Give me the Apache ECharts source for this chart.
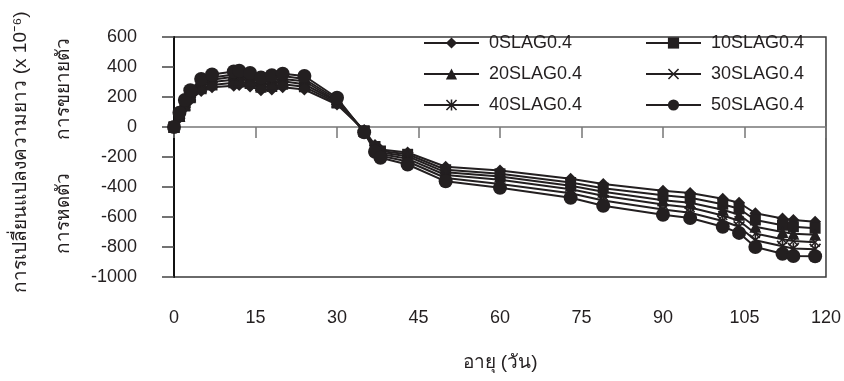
<!DOCTYPE html>
<html>
<head>
<meta charset="utf-8">
<script src="https://cdn.jsdelivr.net/npm/echarts@6/dist/echarts.min.js"></script>
<style>
  html, body { margin: 0; padding: 0; background: #fff; }
  #chart { width: 844px; height: 381px; }
</style>
</head>
<body>
<div id="chart"></div>
<script>
// อายุ (วัน)
const days = [0, 1, 2, 3, 5, 7, 11, 12, 14, 16, 18, 20, 24, 30, 35, 37, 38, 43, 50, 60, 73, 79, 90, 95, 101, 104, 107, 112, 114, 118];

// strain (x 10^-6)
const slag0  = [0, 60, 130, 180, 240, 265, 275, 280, 270, 245, 250, 265, 250, 150, -20, -120, -150, -170, -265, -290, -345, -380, -425, -440, -478, -505, -575, -610, -620, -632];
const slag10 = [0, 70, 140, 195, 255, 280, 295, 300, 290, 265, 270, 285, 268, 160, -25, -130, -160, -182, -285, -312, -370, -408, -455, -472, -515, -545, -620, -655, -665, -675];
const slag20 = [0, 75, 150, 205, 270, 300, 315, 320, 310, 280, 290, 305, 285, 170, -25, -140, -170, -195, -302, -330, -392, -432, -488, -505, -552, -585, -665, -700, -712, -718];
const slag30 = [0, 80, 160, 220, 285, 315, 335, 340, 325, 300, 310, 320, 305, 175, -30, -146, -180, -212, -320, -352, -415, -458, -517, -537, -590, -625, -710, -748, -760, -768];
const slag40 = [0, 90, 170, 230, 300, 330, 350, 355, 345, 315, 325, 340, 320, 185, -30, -155, -192, -230, -340, -380, -442, -490, -550, -572, -627, -665, -755, -795, -810, -815];
const slag50 = [0, 95, 180, 245, 320, 350, 370, 375, 360, 330, 345, 355, 340, 195, -35, -165, -205, -250, -362, -405, -472, -525, -585, -607, -665, -706, -800, -845, -860, -862];

const names = ["0SLAG0.4", "10SLAG0.4", "20SLAG0.4", "30SLAG0.4", "40SLAG0.4", "50SLAG0.4"];
const values = [slag0, slag10, slag20, slag30, slag40, slag50];

const ink = "#231f20";
const font = "'Liberation Sans', Arial, 'Noto Sans', sans-serif";

// ตัวชี้แบบ x และ *
const crossPath = "path://M0,1 L1,0 L5,4 L9,0 L10,1 L6,5 L10,9 L9,10 L5,6 L1,10 L0,9 L4,5 Z";
const starPath = "path://M0,1 L1,0 L5,4 L9,0 L10,1 L6,5 L10,9 L9,10 L5,6 L1,10 L0,9 L4,5 Z M4.3,0 L5.7,0 L5.7,10 L4.3,10 Z";
const symbols = ["diamond", "rect", "triangle", crossPath, starPath, "circle"];
const sizes = [12, 11, 12, 10, 12, 14];

const myChart = echarts.init(document.getElementById("chart"), null, { renderer: "canvas" });

const legendBase = {
  orient: "vertical", top: 34, padding: 0,
  itemWidth: 55, itemHeight: 14, itemGap: 13,
  textStyle: { fontSize: 18, lineHeight: 14, color: ink, fontFamily: font, padding: [0, 0, 0, 5] }
};

const option = {
  backgroundColor: "#fff",
  animation: false,
  textStyle: { fontFamily: font, color: ink },
  grid: {
    left: 174, top: 37, right: 16, bottom: 104,
    show: true, borderColor: "#3a3a3a", borderWidth: 1.5
  },
  legend: [
    Object.assign({}, legendBase, { left: 423, data: [names[0], names[2], names[4]] }),
    Object.assign({}, legendBase, { left: 645, data: [names[1], names[3], names[5]] })
  ],
  xAxis: [
    {
      type: "value", min: 0, max: 120, interval: 15,
      axisLine: { onZero: true, lineStyle: { color: "#777", width: 1.5 } },
      axisTick: { show: true, length: 11, lineStyle: { color: "#777", width: 1.5 } },
      axisLabel: { show: false },
      splitLine: { show: false }
    },
    {
      type: "value", min: 0, max: 120, interval: 15, position: "bottom",
      axisLine: { show: false, onZero: false },
      axisTick: { show: false },
      axisLabel: { margin: 32, fontSize: 18, color: ink, fontFamily: font },
      splitLine: { show: false }
    }
  ],
  yAxis: {
    type: "value", min: -1000, max: 600, interval: 200,
    axisLine: { show: true, onZero: false, lineStyle: { color: "#111", width: 2 } },
    axisTick: { show: true, length: 12, lineStyle: { color: "#444", width: 1.5 } },
    axisLabel: { margin: 37, fontSize: 18, color: ink, fontFamily: font, formatter: (v) => String(v) },
    splitLine: { show: false }
  },
  graphic: [
    {
      type: "text", x: 21, y: 152, rotation: Math.PI / 2,
      style: {
        text: "การเปลี่ยนแปลงความยาว (x 10⁻⁶)",
        font: "19px " + font, fill: ink, textAlign: "center", textVerticalAlign: "middle"
      }
    },
    {
      type: "text", x: 64, y: 89, rotation: Math.PI / 2,
      style: {
        text: "การขยายตัว",
        font: "19px " + font, fill: ink, textAlign: "center", textVerticalAlign: "middle"
      }
    },
    {
      type: "text", x: 64, y: 213, rotation: Math.PI / 2,
      style: {
        text: "การหดตัว",
        font: "19px " + font, fill: ink, textAlign: "center", textVerticalAlign: "middle"
      }
    },
    {
      type: "text", x: 500, y: 363,
      style: {
        text: "อายุ (วัน)",
        font: "19px " + font, fill: ink, textAlign: "center", textVerticalAlign: "middle"
      }
    }
  ],
  series: names.map((name, k) => ({
    name: name,
    type: "line",
    data: days.map((d, i) => [d, values[k][i]]),
    symbol: symbols[k],
    symbolSize: sizes[k],
    showAllSymbol: true,
    lineStyle: { color: ink, width: 2 },
    itemStyle: { color: ink, borderWidth: 0 },
    emphasis: { disabled: true }
  }))
};

myChart.setOption(option);
</script>
</body>
</html>
